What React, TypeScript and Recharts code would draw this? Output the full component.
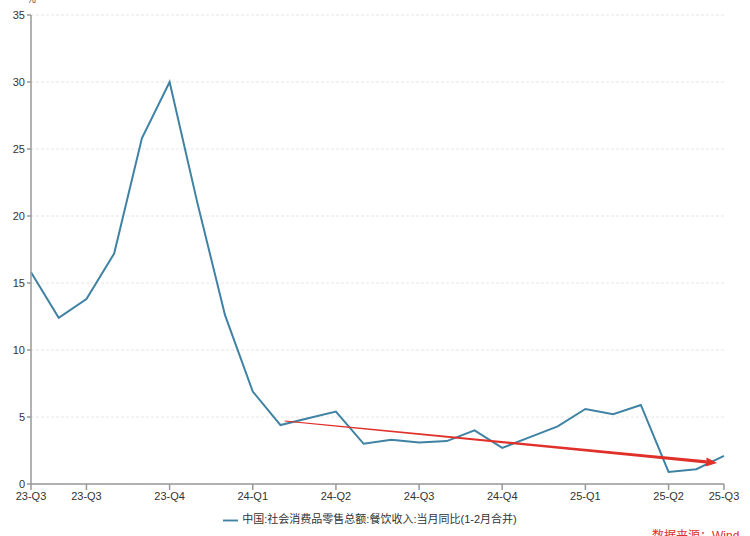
import React from "react";
import {
  LineChart,
  Line,
  XAxis,
  YAxis,
  CartesianGrid,
  Legend,
  ReferenceLine,
} from "recharts";

// monthly, Jul 2023 .. Aug 2025
const months = [
  "2023-07", "2023-08", "2023-09", "2023-10", "2023-11", "2023-12",
  "2024-01", "2024-02", "2024-03", "2024-04", "2024-05", "2024-06",
  "2024-07", "2024-08", "2024-09", "2024-10", "2024-11", "2024-12",
  "2025-01", "2025-02", "2025-03", "2025-04", "2025-05", "2025-06",
  "2025-07", "2025-08",
];

const catering = [
  15.8, 12.4, 13.8, 17.2, 25.8, 30.0, 21.0, 12.6, 6.9, 4.4, 4.9, 5.4, 3.0,
  3.3, 3.1, 3.2, 4.0, 2.7, 3.5, 4.3, 5.6, 5.2, 5.9, 0.9, 1.1, 2.1,
];

const tickIndex = [0, 2, 5, 8, 11, 14, 17, 20, 23, 25];
const tickLabels = [
  "23-Q3", "23-Q3", "23-Q4", "24-Q1", "24-Q2",
  "24-Q3", "24-Q4", "25-Q1", "25-Q2", "25-Q3",
];

const yTicks = [0, 5, 10, 15, 20, 25, 30, 35];

// trend arrow, in data units (index, %)
const trendStart = { x: 9.15, y: 4.7 };
const trendEnd = { x: 24.75, y: 1.57 };

const seriesName = "中国:社会消费品零售总额:餐饮收入:当月同比(1-2月合并)";

const data = months.map((m, i) => ({ i, month: m, value: catering[i] }));

const FONT = "'Liberation Sans', 'Noto Sans CJK SC', sans-serif";

function TrendArrow(props: any) {
  const { x1, y1, x2, y2 } = props;
  if (x1 == null || x2 == null) return null;
  const dx = x2 - x1;
  const dy = y2 - y1;
  const len = Math.sqrt(dx * dx + dy * dy);
  const ux = dx / len;
  const uy = dy / len;
  const nx = -uy;
  const ny = ux;
  const head = 11;
  const bx = x2 - ux * head;
  const by = y2 - uy * head;
  const w0 = 0.5;
  const w1 = 1.6;
  const body = [
    [x1 + nx * w0, y1 + ny * w0],
    [bx + nx * w1, by + ny * w1],
    [bx - nx * w1, by - ny * w1],
    [x1 - nx * w0, y1 - ny * w0],
  ]
    .map((p) => p.join(","))
    .join(" ");
  const tip = [
    [x2, y2],
    [bx + nx * 4.5, by + ny * 4.5],
    [bx - nx * 4.5, by - ny * 4.5],
  ]
    .map((p) => p.join(","))
    .join(" ");
  return (
    <g>
      <polygon points={body} fill="#e0302a" />
      <polygon points={tip} fill="#e0302a" />
    </g>
  );
}

export default function App() {
  return (
    <div
      style={{
        position: "absolute",
        left: 0,
        top: 0,
        width: 750,
        height: 536,
        background: "#fff",
        overflow: "hidden",
        fontFamily: FONT,
      }}
    >
      <div
        style={{
          position: "absolute",
          left: 27,
          top: -6,
          fontSize: 10,
          color: "#555",
        }}
      >
        %
      </div>
      <LineChart
        width={750}
        height={536}
        data={data}
        margin={{ top: 15, right: 26, bottom: 6, left: 0 }}
      >
        <CartesianGrid
          vertical={false}
          stroke="#e6e6e6"
          strokeDasharray="3 2"
        />
        <XAxis
          dataKey="i"
          type="number"
          domain={[0, 25]}
          ticks={tickIndex}
          tickFormatter={(v: number) => tickLabels[tickIndex.indexOf(v)] ?? ""}
          interval={0}
          stroke="#999"
          strokeWidth={1.5}
          tickSize={6}
          tick={{ fill: "#333", fontSize: 11, fontFamily: FONT }}
          height={22}
        />
        <YAxis
          domain={[0, 35]}
          ticks={yTicks}
          width={31}
          stroke="#999"
          strokeWidth={1.5}
          tickSize={4}
          tick={{ fill: "#333", fontSize: 11, fontFamily: FONT }}
        />
        <Legend
          verticalAlign="bottom"
          height={24}
          iconType="plainline"
          iconSize={15}
          wrapperStyle={{
            fontSize: 11,
            color: "#333",
            fontFamily: FONT,
            left: 0,
            width: 750,
            bottom: 2,
          }}
          formatter={(v: string) => <span style={{ color: "#333" }}>{v}</span>}
        />
        <Line
          type="linear"
          dataKey="value"
          name={seriesName}
          stroke="#3f82a3"
          strokeWidth={2}
          dot={false}
          isAnimationActive={false}
        />
        <ReferenceLine
          segment={[trendStart, trendEnd]}
          shape={(p: any) => <TrendArrow {...p} />}
          ifOverflow="visible"
        />
      </LineChart>
      <div
        style={{
          position: "absolute",
          left: 652,
          top: 526,
          fontSize: 12,
          color: "#e0302a",
        }}
      >
        数据来源：Wind
      </div>
    </div>
  );
}
